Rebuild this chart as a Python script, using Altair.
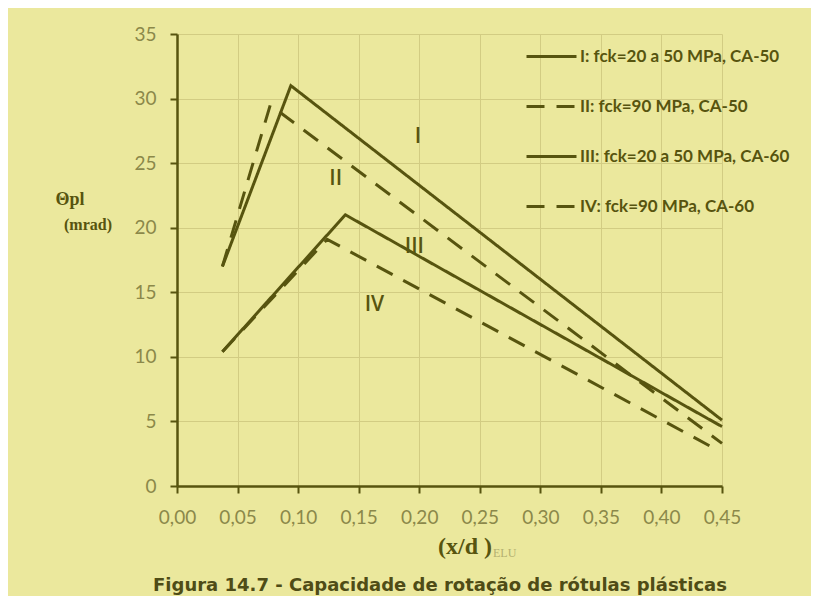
import altair as alt
import pandas as pd

# ---- data ----
series_names = [
    "I: fck=20 a 50 MPa, CA-50",
    "II: fck=90 MPa, CA-50",
    "III: fck=20 a 50 MPa, CA-60",
    "IV: fck=90 MPa, CA-60",
]
x_I = [0.0375, 0.094, 0.45]
y_I = [17.0, 31.0, 5.1]
x_II = [0.0375, 0.077, 0.45]
y_II = [17.0, 29.5, 3.3]
x_III = [0.0375, 0.139, 0.45]
y_III = [10.4, 21.0, 4.6]
x_IV = [0.0375, 0.124, 0.44]
y_IV = [10.4, 19.1, 3.1]

label_text = ["I", "II", "III", "IV"]
label_x = [0.199, 0.131, 0.196, 0.163]
label_y = [27.0, 23.8, 18.5, 14.0]

x_ticks = [round(i * 0.025, 3) for i in range(19)]
y_ticks = [0, 5, 10, 15, 20, 25, 30, 35]

caption = "Figura 14.7 - Capacidade de rotação de rótulas plásticas"

# ---- build tables ----
rows = []
for name, xs, ys in zip(series_names, [x_I, x_II, x_III, x_IV], [y_I, y_II, y_III, y_IV]):
    for i, (xv, yv) in enumerate(zip(xs, ys)):
        rows.append({"serie": name, "x": xv, "y": yv, "order": i})
df = pd.DataFrame(rows)
df_lab = pd.DataFrame({"x": label_x, "y": label_y, "t": label_text})

OLIVE = "#57540f"
BG = "#ebe89d"
GRID = "#d2cc83"
TICKLAB = "#8b884a"

W, H = 545, 452
PAD = {"left": 169, "top": 26, "right": 89, "bottom": 110}

xscale = alt.Scale(domain=[0, 0.45], nice=False, zero=True)
yscale = alt.Scale(domain=[0, 35], nice=False, zero=True)

xaxis = alt.Axis(
    values=x_ticks,
    labelExpr="round(datum.value*1000) % 50 == 0 ? replace(format(datum.value, '.2f'), '.', ',') : ''",
    tickOpacity={"condition": {"test": "round(datum.value*1000) % 50 != 0", "value": 0}, "value": 1},
    title=None,
    grid=True,
    gridColor=GRID,
    gridWidth=1,
    domainColor=OLIVE,
    domainWidth=2.5,
    tickColor=OLIVE,
    tickWidth=2,
    tickSize=7,
    labelFont="Lato",
    labelFontSize=19,
    labelColor=TICKLAB,
    labelPadding=15,
    labelFlush=False,
    labelOverlap=False,
)
yaxis = alt.Axis(
    values=y_ticks,
    title=None,
    grid=True,
    gridColor=GRID,
    gridWidth=1,
    domainColor=OLIVE,
    domainWidth=2.5,
    tickColor=OLIVE,
    tickWidth=2,
    tickSize=7,
    labelFont="Lato",
    labelFontSize=19,
    labelColor=TICKLAB,
    labelPadding=14,
    labelFlush=False,
)

lines = alt.Chart(df).mark_line(color=OLIVE, strokeWidth=3).encode(
    x=alt.X("x:Q", scale=xscale, axis=xaxis),
    y=alt.Y("y:Q", scale=yscale, axis=yaxis),
    order="order:Q",
    strokeDash=alt.StrokeDash(
        "serie:N",
        scale=alt.Scale(domain=series_names, range=[[1, 0], [18, 12], [1, 0], [18, 12]]),
        sort=series_names,
        legend=alt.Legend(
            orient="none",
            legendX=348,
            legendY=-4,
            title=None,
            padding=0,
            symbolType="stroke",
            symbolSize=2500,
            symbolStrokeWidth=3,
            symbolStrokeColor=OLIVE,
            labelFont="Lato",
            labelFontSize=17,
            labelFontWeight="bold",
            labelColor=OLIVE,
            labelOffset=2,
            rowPadding=15,
            labelLimit=400,
        ),
    ),
)

labels = alt.Chart(df_lab).mark_text(
    color=OLIVE, font="Open Sans", fontSize=21, fontWeight=600, align="center", baseline="middle"
).encode(x=alt.X("x:Q", scale=xscale), y=alt.Y("y:Q", scale=yscale), text="t:N")

serif = "Liberation Serif"
anno = alt.Chart(pd.DataFrame({"a": [0]}))
ytitle1 = anno.mark_text(text="Θpl", font=serif, fontWeight="bold", fontSize=18, color=OLIVE,
                         align="center", baseline="middle").encode(x=alt.value(-107), y=alt.value(166))
ytitle2 = anno.mark_text(text="(mrad)", font=serif, fontWeight="bold", fontSize=16, color=OLIVE,
                         align="center", baseline="middle").encode(x=alt.value(-89), y=alt.value(191))
xtitle1 = anno.mark_text(text="(x/d )", font=serif, fontWeight="bold", fontSize=24, color=OLIVE,
                         align="right", baseline="middle").encode(x=alt.value(315), y=alt.value(513))
xtitle2 = anno.mark_text(text="ELU", font=serif, fontSize=12, color="#b3b070",
                         align="left", baseline="middle").encode(x=alt.value(316), y=alt.value(519))
cap = anno.mark_text(text=caption, font="DejaVu Sans", fontWeight="bold", fontSize=18,
                     color="#4f4c16", align="center", baseline="middle").encode(
    x=alt.value(263), y=alt.value(552))

chart = alt.layer(lines, labels, ytitle1, ytitle2, xtitle1, xtitle2, cap).properties(
    width=W,
    height=H,
    background=BG,
    padding=PAD,
    autosize=alt.AutoSizeParams(type="none"),
).configure_view(stroke=None)

chart.save("out.html", embed_options={"renderer": "svg", "actions": False})
